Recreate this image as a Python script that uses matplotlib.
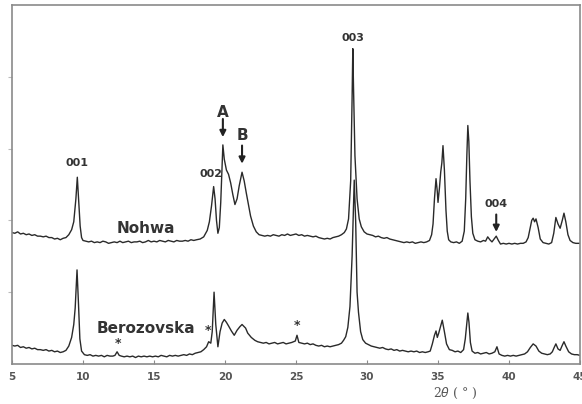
import matplotlib
matplotlib.use("Agg")
import matplotlib.pyplot as plt

# Nohwa pattern (2theta, intensity, arbitrary units)
nohwa_x = [5.0, 5.2, 5.4, 5.6, 5.8, 6.0, 6.2, 6.4, 6.6, 6.8, 7.0, 7.2, 7.4, 7.6, 7.8,
           8.0, 8.2, 8.4, 8.6, 8.8, 9.0, 9.2, 9.35, 9.5, 9.6, 9.7, 9.8, 9.9, 10.0,
           10.2, 10.4, 10.6, 10.8, 11.0, 11.2, 11.4, 11.6, 11.8, 12.0, 12.2, 12.4,
           12.6, 12.8, 13.0, 13.2, 13.4, 13.6, 13.8, 14.0, 14.2, 14.4, 14.6, 14.8,
           15.0, 15.2, 15.4, 15.6, 15.8, 16.0, 16.2, 16.4, 16.6, 16.8, 17.0, 17.2,
           17.4, 17.6, 17.8, 18.0, 18.25, 18.5, 18.75, 18.9, 19.05, 19.2, 19.3,
           19.4, 19.5, 19.6, 19.7, 19.85, 19.95, 20.1, 20.25, 20.4, 20.55, 20.7,
           20.85, 21.0, 21.2, 21.35, 21.5, 21.65, 21.8, 22.0, 22.2, 22.4, 22.6,
           22.8, 23.0, 23.2, 23.4, 23.6, 23.8, 24.0, 24.2, 24.4, 24.6, 24.8, 25.0,
           25.2, 25.4, 25.6, 25.8, 26.0, 26.2, 26.4, 26.6, 26.8, 27.0, 27.2, 27.4,
           27.6, 27.8, 28.0, 28.2, 28.4, 28.55, 28.7, 28.85, 28.95, 29.0, 29.05,
           29.15, 29.3, 29.45, 29.6, 29.8, 30.0, 30.2, 30.4, 30.6, 30.8, 31.0,
           31.2, 31.4, 31.6, 31.8, 32.0, 32.2, 32.4, 32.6, 32.8, 33.0, 33.2, 33.4,
           33.6, 33.8, 34.0, 34.2, 34.4, 34.55, 34.65, 34.75, 34.86, 34.95, 35.0,
           35.1, 35.19, 35.27, 35.35, 35.45, 35.56, 35.65, 35.75, 35.9, 36.1,
           36.3, 36.5, 36.7, 36.85, 36.95, 37.03, 37.1, 37.17, 37.25, 37.35, 37.45,
           37.6, 37.8, 38.0, 38.2, 38.35, 38.5, 38.65, 38.8, 38.95, 39.1, 39.25,
           39.4, 39.6, 39.8, 40.0, 40.2, 40.4, 40.6, 40.8, 41.0, 41.2, 41.35, 41.5,
           41.6, 41.7, 41.8, 41.9, 42.05, 42.2, 42.4, 42.6, 42.8, 43.0, 43.15,
           43.3, 43.45, 43.6, 43.75, 43.87, 44.0, 44.15, 44.3, 44.5, 44.7, 45.0]
nohwa_y = [1.83, 1.82, 1.84, 1.81, 1.82, 1.80, 1.81, 1.79, 1.80, 1.78, 1.78, 1.77, 1.78, 1.76, 1.76,
           1.74, 1.75, 1.73, 1.75, 1.76, 1.80, 1.87, 1.98, 2.30, 2.60, 2.25, 1.92, 1.76, 1.72,
           1.71, 1.70, 1.71, 1.69, 1.70, 1.69, 1.71, 1.70, 1.68, 1.69, 1.70, 1.69,
           1.71, 1.69, 1.70, 1.71, 1.69, 1.70, 1.70, 1.71, 1.69, 1.70, 1.72, 1.70,
           1.71, 1.70, 1.72, 1.71, 1.70, 1.72, 1.71, 1.70, 1.72, 1.71, 1.71, 1.72,
           1.71, 1.73, 1.72, 1.73, 1.74, 1.77, 1.86, 1.98, 2.20, 2.47, 2.30,
           2.00, 1.82, 1.90, 2.25, 3.05, 2.85, 2.70, 2.64, 2.52, 2.36, 2.22,
           2.30, 2.48, 2.67, 2.55, 2.38, 2.22, 2.06, 1.92, 1.84, 1.80, 1.79,
           1.78, 1.79, 1.78, 1.80, 1.79, 1.78, 1.80, 1.79, 1.81, 1.79, 1.80, 1.81,
           1.79, 1.80, 1.78, 1.79, 1.78, 1.77, 1.78, 1.76, 1.75, 1.74, 1.75, 1.74,
           1.76, 1.77, 1.78, 1.80, 1.83, 1.88, 2.02, 2.55, 3.70, 4.39, 3.85,
           2.90, 2.30, 2.02, 1.91, 1.84, 1.81, 1.80, 1.79, 1.77, 1.78, 1.76,
           1.75, 1.76, 1.74, 1.73, 1.72, 1.71, 1.70, 1.69, 1.70, 1.69, 1.70, 1.68,
           1.69, 1.70, 1.69, 1.70, 1.72, 1.80, 1.95, 2.30, 2.58, 2.40, 2.25,
           2.45, 2.67, 2.80, 3.04, 2.70, 2.14, 1.85, 1.73, 1.70, 1.69,
           1.70, 1.68, 1.71, 1.85, 2.30, 2.90, 3.32, 3.10, 2.55, 2.05, 1.82,
           1.73, 1.71, 1.70, 1.72, 1.71, 1.77, 1.73, 1.70, 1.74, 1.78, 1.72,
           1.67, 1.68, 1.67, 1.68, 1.67, 1.68, 1.67, 1.68, 1.68, 1.70, 1.76, 1.90,
           2.00, 2.03, 1.98, 2.02, 1.90, 1.74, 1.69, 1.68, 1.67, 1.69, 1.82,
           2.04, 1.95, 1.89, 2.00, 2.10, 1.98, 1.80, 1.72, 1.69, 1.68, 1.68]

# Berozovska pattern
beroz_x = [5.0, 5.2, 5.4, 5.6, 5.8, 6.0, 6.2, 6.4, 6.6, 6.8, 7.0, 7.2, 7.4, 7.6, 7.8,
           8.0, 8.2, 8.4, 8.6, 8.8, 9.0, 9.2, 9.35, 9.45, 9.58, 9.68, 9.78, 9.9,
           10.1, 10.3, 10.5, 10.7, 10.9, 11.1, 11.3, 11.5, 11.7, 11.9, 12.1, 12.25,
           12.4, 12.55, 12.7, 12.9, 13.1, 13.3, 13.5, 13.7, 13.9, 14.1, 14.3, 14.5,
           14.7, 14.9, 15.1, 15.3, 15.5, 15.7, 15.9, 16.1, 16.3, 16.5, 16.7, 16.9,
           17.1, 17.3, 17.5, 17.7, 17.9, 18.1, 18.3, 18.5, 18.7, 18.85, 19.0, 19.1,
           19.23, 19.35, 19.5, 19.65, 19.8, 19.95, 20.1, 20.25, 20.45, 20.65,
           20.85, 21.05, 21.2, 21.3, 21.45, 21.6, 21.85, 22.1, 22.3, 22.5, 22.7,
           22.9, 23.1, 23.3, 23.5, 23.7, 23.9, 24.1, 24.3, 24.5, 24.7, 24.95,
           25.07, 25.2, 25.4, 25.6, 25.8, 26.0, 26.2, 26.4, 26.6, 26.8, 27.0,
           27.2, 27.4, 27.6, 27.8, 28.0, 28.2, 28.35, 28.5, 28.65, 28.8, 28.95,
           29.1, 29.2, 29.3, 29.4, 29.55, 29.7, 29.9, 30.1, 30.3, 30.5, 30.7,
           30.9, 31.1, 31.3, 31.5, 31.7, 31.9, 32.1, 32.3, 32.5, 32.7, 32.9, 33.1,
           33.3, 33.5, 33.7, 33.9, 34.1, 34.3, 34.45, 34.6, 34.75, 34.86, 34.95,
           35.05, 35.19, 35.3, 35.45, 35.6, 35.8, 36.0, 36.2, 36.4, 36.6, 36.8,
           36.92, 37.02, 37.1, 37.18, 37.28, 37.4, 37.6, 37.8, 38.0, 38.2, 38.4,
           38.6, 38.8, 39.0, 39.15, 39.3, 39.5, 39.7, 39.9, 40.1, 40.3, 40.5, 40.7,
           40.9, 41.1, 41.3, 41.5, 41.7, 41.9, 42.1, 42.3, 42.5, 42.7, 42.9,
           43.05, 43.18, 43.3, 43.45, 43.6, 43.75, 43.87, 44.0, 44.2, 44.4, 44.6,
           44.8, 45.0]
beroz_y = [0.26, 0.25, 0.26, 0.23, 0.24, 0.22, 0.23, 0.21, 0.22, 0.20, 0.20, 0.19, 0.20, 0.18, 0.19,
           0.17, 0.18, 0.16, 0.17, 0.19, 0.25, 0.37, 0.55, 0.78, 1.31, 0.85, 0.35, 0.18,
           0.13, 0.12, 0.13, 0.11, 0.12, 0.11, 0.12, 0.10, 0.12, 0.11, 0.11, 0.12,
           0.17, 0.12, 0.11, 0.10, 0.11, 0.10, 0.11, 0.09, 0.11, 0.10, 0.11, 0.10,
           0.11, 0.10, 0.11, 0.10, 0.12, 0.11, 0.10, 0.12, 0.11, 0.12, 0.11, 0.12,
           0.13, 0.12, 0.14, 0.13, 0.15, 0.16, 0.17, 0.20, 0.24, 0.31, 0.29, 0.45,
           1.00, 0.55, 0.24, 0.45, 0.57, 0.62, 0.58, 0.53, 0.46, 0.40,
           0.47, 0.52, 0.55, 0.53, 0.50, 0.43, 0.37, 0.33, 0.31, 0.30, 0.29,
           0.30, 0.28, 0.29, 0.30, 0.28, 0.29, 0.30, 0.28, 0.29, 0.30, 0.32,
           0.40, 0.30, 0.29, 0.28, 0.29, 0.27, 0.28, 0.26, 0.25, 0.26, 0.24,
           0.25, 0.24, 0.25, 0.26, 0.27, 0.29, 0.33, 0.38, 0.51, 0.80, 1.50,
           2.56, 2.00, 1.00, 0.72, 0.45, 0.34, 0.29, 0.27, 0.25, 0.24, 0.23,
           0.22, 0.23, 0.21, 0.20, 0.21, 0.19, 0.20, 0.18, 0.19, 0.18, 0.17, 0.18,
           0.17, 0.18, 0.16, 0.17, 0.16, 0.17, 0.18, 0.28, 0.40, 0.46, 0.37,
           0.43, 0.53, 0.61, 0.45, 0.28, 0.20, 0.19, 0.17, 0.18, 0.16, 0.20,
           0.35, 0.55, 0.71, 0.58, 0.30, 0.18, 0.15, 0.16, 0.14, 0.15, 0.16,
           0.14, 0.15, 0.17, 0.24, 0.14, 0.12, 0.11, 0.12, 0.11, 0.12, 0.11, 0.12,
           0.13, 0.14, 0.17, 0.23, 0.28, 0.25, 0.18, 0.15, 0.14, 0.13, 0.14,
           0.17, 0.23, 0.28, 0.21, 0.19, 0.26, 0.31, 0.25, 0.17, 0.14, 0.13,
           0.13, 0.12]

fig = plt.figure(figsize=(5.82, 4.04), dpi=100)
ax = fig.add_axes([0.0206, 0.099, 0.976, 0.889])

lc = "#2a2a2a"
ax.plot(nohwa_x, nohwa_y, color=lc, lw=1.0)
ax.plot(beroz_x, beroz_y, color=lc, lw=1.0)

ax.set_xlim(5, 45)
ax.set_ylim(0, 5)
ax.set_xticks(range(5, 46, 5))
ax.set_yticks([1, 2, 3, 4])
ax.set_yticklabels([])
for s in ax.spines.values():
    s.set_color("#8a8a8a")
    s.set_linewidth(1.2)
ax.tick_params(axis="x", colors="#8a8a8a", labelcolor="#555555", labelsize=7.5,
               length=3, direction="in", pad=6)
ax.tick_params(axis="y", colors="#bbbbbb", length=3, direction="out")
for t in ax.get_xticklabels():
    t.set_fontweight("bold")

ax.text(36.2, -0.3, "2$\\theta$ ( ° )", fontsize=9, color="#555555",
        ha="center", va="top", family="DejaVu Serif")

tc = "#333333"
ax.text(9.6, 2.75, "001", fontsize=8, fontweight="bold", color=tc, ha="center")
ax.text(19.0, 2.6, "002", fontsize=8, fontweight="bold", color=tc, ha="center")
ax.text(29.0, 4.5, "003", fontsize=8, fontweight="bold", color=tc, ha="center")
ax.text(39.1, 2.18, "004", fontsize=8, fontweight="bold", color=tc, ha="center")
ax.text(19.85, 3.4, "A", fontsize=11, fontweight="bold", color=tc, ha="center", va="bottom")
ax.text(21.2, 3.08, "B", fontsize=11, fontweight="bold", color=tc, ha="center", va="bottom")

arrow = dict(arrowstyle="-|>", color="#222222", lw=1.5, mutation_scale=9)
ax.annotate("", xy=(19.85, 3.12), xytext=(19.85, 3.45), arrowprops=arrow)
ax.annotate("", xy=(21.2, 2.75), xytext=(21.2, 3.08), arrowprops=arrow)
ax.annotate("", xy=(39.1, 1.8), xytext=(39.1, 2.12), arrowprops=arrow)

ax.text(14.4, 1.89, "Nohwa", fontsize=11, fontweight="bold", color=tc, ha="center", va="center")
ax.text(14.4, 0.50, "Berozovska", fontsize=11, fontweight="bold", color=tc, ha="center", va="center")

for sx, sy in [(12.5, 0.2), (18.8, 0.37), (25.1, 0.45)]:
    ax.text(sx, sy, "*", fontsize=9, fontweight="bold", color=tc, ha="center", va="bottom")

fig.savefig("out.png", dpi=100)
